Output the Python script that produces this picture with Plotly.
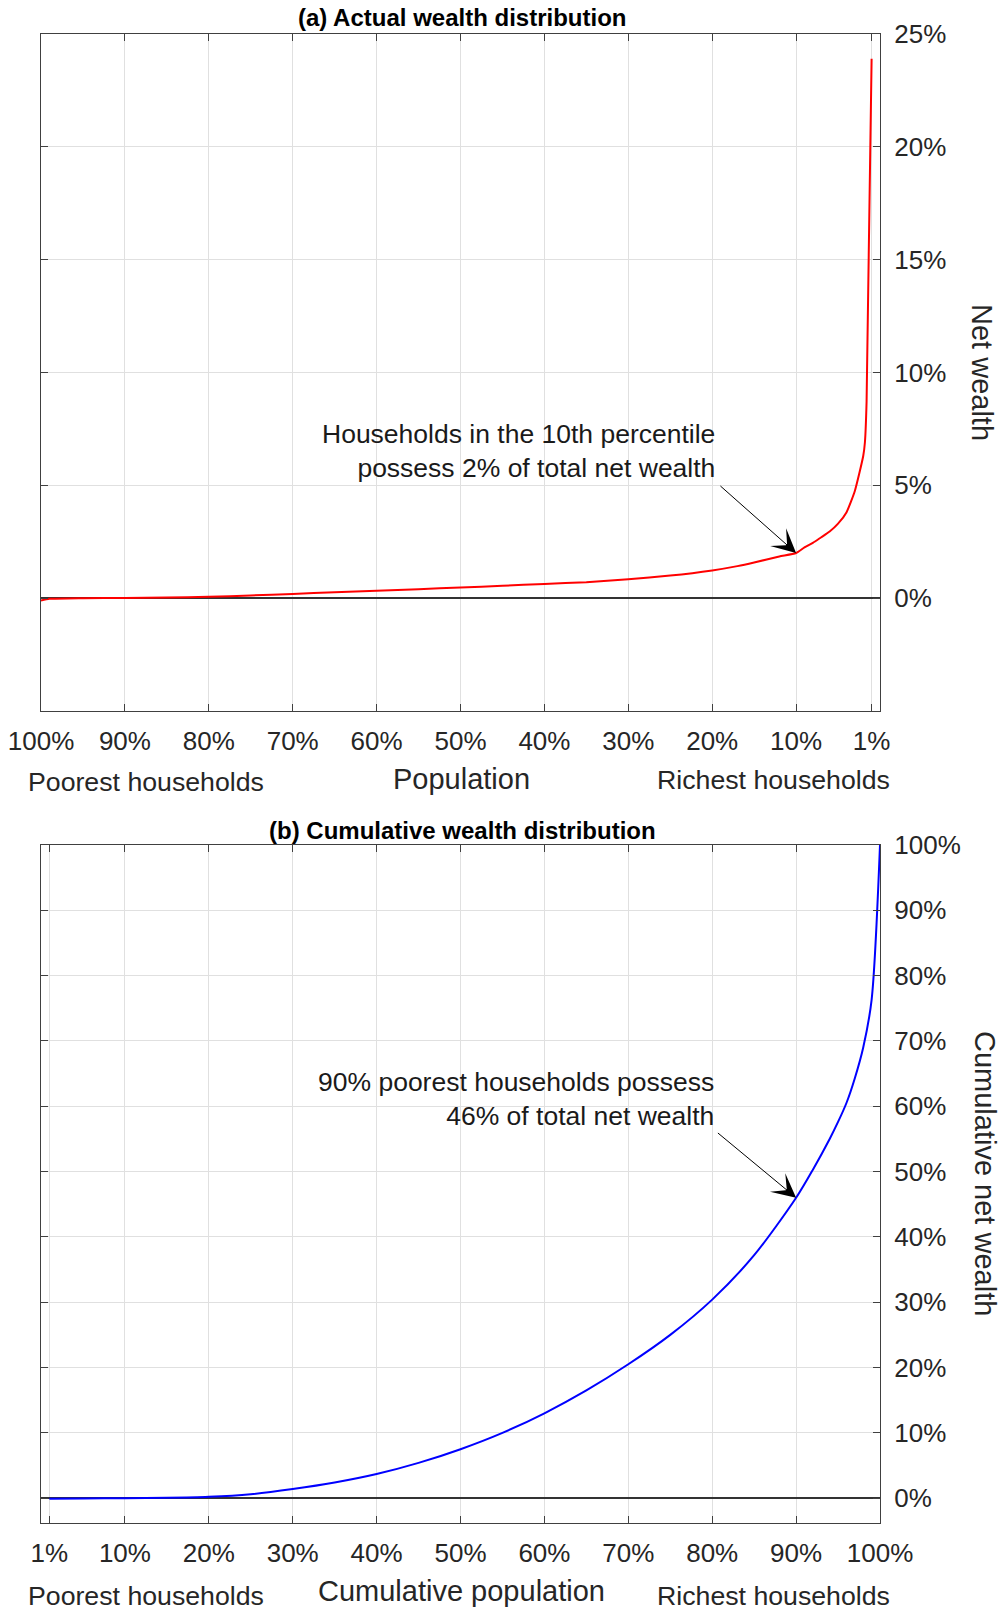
import plotly.graph_objects as go

# ---- Data -------------------------------------------------------------
# (a) share of total net wealth held by each percentile (100% = poorest, 1% = richest)
pct_rank = [100, 99, 95, 90, 85, 80, 75, 70, 65, 60, 55, 50, 45, 40, 35, 30,
            25, 20, 17, 15, 12, 10, 9, 8, 7, 6, 5, 4, 3, 2, 1.8, 1.6, 1]
wealth_share = [-0.10, -0.03, 0.00, 0.01, 0.03, 0.06, 0.12, 0.19, 0.26, 0.33,
                0.40, 0.47, 0.55, 0.63, 0.71, 0.84, 1.00, 1.23, 1.42, 1.58,
                1.85, 2.00, 2.25, 2.45, 2.70, 2.95, 3.30, 3.80, 4.75, 6.30,
                6.90, 8.70, 23.90]

# (b) cumulative share of net wealth against cumulative population
cum_pop = [1, 5, 10, 15, 20, 25, 30, 35, 40, 45, 50, 55, 60, 65, 70, 75, 80,
           85, 90, 92, 94, 95, 96, 97, 98, 99, 100]
cum_wealth = [-0.10, -0.05, 0.00, 0.05, 0.20, 0.60, 1.40, 2.40, 3.70, 5.40,
              7.50, 10.00, 13.00, 16.50, 20.50, 25.00, 30.40, 37.20, 46.00,
              50.30, 55.00, 57.60, 60.50, 64.30, 69.00, 76.30, 100.00]

top_xticks = [100, 90, 80, 70, 60, 50, 40, 30, 20, 10, 1]
top_yticks = [0, 5, 10, 15, 20, 25]
bot_xticks = [1, 10, 20, 30, 40, 50, 60, 70, 80, 90, 100]
bot_yticks = [0, 10, 20, 30, 40, 50, 60, 70, 80, 90, 100]

# ---- Styling ----------------------------------------------------------
W, H = 1003, 1611
FONT = "Liberation Sans, Arial, Helvetica, sans-serif"
INK = "#262626"
GRID = "#e0e0e0"
AXLINE = "#404040"


def px(x):
    return x / W


def py(y):
    return 1 - y / H


def pct_labels(vals):
    return [f"{v}%" for v in vals]


axis_common = dict(
    showline=True, linecolor=AXLINE, linewidth=1.2, mirror="ticks",
    ticks="inside", ticklen=7, tickwidth=1, tickcolor=AXLINE,
    showgrid=True, gridcolor=GRID, gridwidth=1,
    tickfont=dict(family=FONT, size=26, color=INK),
    automargin=False, fixedrange=True,
)

fig = go.Figure()

fig.add_trace(go.Scatter(
    x=pct_rank, y=wealth_share, mode="lines",
    line=dict(color="#ff0000", width=2, shape="spline", smoothing=0.5),
    xaxis="x", yaxis="y", showlegend=False, hoverinfo="skip",
))
fig.add_trace(go.Scatter(
    x=cum_pop, y=cum_wealth, mode="lines",
    line=dict(color="#0000ff", width=2, shape="spline", smoothing=0.8),
    xaxis="x2", yaxis="y2", showlegend=False, hoverinfo="skip",
))

fig.update_layout(
    width=W, height=H,
    margin=dict(l=0, r=0, t=0, b=0, autoexpand=False),
    paper_bgcolor="white", plot_bgcolor="white",
    xaxis=dict(
        **axis_common, domain=[px(41), px(880)], anchor="y",
        range=[100, 0], tickvals=top_xticks, ticktext=pct_labels(top_xticks),
        zeroline=False, ticklabelstandoff=7,
    ),
    yaxis=dict(
        **axis_common, domain=[py(711), py(34)], anchor="x", side="right",
        range=[-5, 25], tickvals=top_yticks, ticktext=pct_labels(top_yticks),
        zeroline=True, zerolinecolor="#333333", zerolinewidth=1.5,
        ticklabelstandoff=8,
    ),
    xaxis2=dict(
        **axis_common, domain=[px(41), px(880)], anchor="y2",
        range=[0, 100], tickvals=bot_xticks, ticktext=pct_labels(bot_xticks),
        zeroline=False, ticklabelstandoff=7,
    ),
    yaxis2=dict(
        **axis_common, domain=[py(1523), py(845)], anchor="x2", side="right",
        range=[-3.8, 100], tickvals=bot_yticks, ticktext=pct_labels(bot_yticks),
        zeroline=True, zerolinecolor="#333333", zerolinewidth=1.5,
        ticklabelstandoff=8,
    ),
)


def text_note(x, y, text, size, xanchor="center", angle=0, color=INK):
    return dict(
        x=px(x), y=py(y), xref="paper", yref="paper", text=text,
        showarrow=False, xanchor=xanchor, yanchor="middle", textangle=angle,
        font=dict(family=FONT, size=size, color=color),
    )


notes = [
    # panel titles
    text_note(462, 18, "<b>(a) Actual wealth distribution</b>", 24, color="#000000"),
    text_note(462, 831, "<b>(b) Cumulative wealth distribution</b>", 24, color="#000000"),
    # x-axis captions, panel (a)
    text_note(26, 782, "Poorest households", 26.7, xanchor="left"),
    text_note(461, 779, "Population", 29),
    text_note(892, 780, "Richest households", 26.7, xanchor="right"),
    # x-axis captions, panel (b)
    text_note(26, 1596, "Poorest households", 26.7, xanchor="left"),
    text_note(461, 1591, "Cumulative population", 29),
    text_note(892, 1596, "Richest households", 26.7, xanchor="right"),
    # right-hand axis titles
    text_note(982, 372, "Net wealth", 29, angle=90),
    text_note(985, 1173, "Cumulative net wealth", 29, angle=90),
]

# callout texts
notes.append(dict(
    x=px(717), y=py(451), xref="paper", yref="paper",
    text="Households in the 10th percentile<br>possess 2% of total net wealth",
    showarrow=False, xanchor="right", yanchor="middle", align="right",
    font=dict(family=FONT, size=26.5, color="#1a1a1a"),
))
notes.append(dict(
    x=px(716), y=py(1099), xref="paper", yref="paper",
    text="90% poorest households possess<br>46% of total net wealth",
    showarrow=False, xanchor="right", yanchor="middle", align="right",
    font=dict(family=FONT, size=26.5, color="#1a1a1a"),
))

# callout arrows pointing at the curves
notes.append(dict(
    x=10, y=2.0, xref="x", yref="y", axref="x", ayref="y", ax=19.2, ay=5.03,
    text="", showarrow=True, arrowhead=3, arrowsize=4, arrowwidth=1,
    arrowcolor="#000000", standoff=0,
))
notes.append(dict(
    x=90, y=46.0, xref="x2", yref="y2", axref="x2", ayref="y2", ax=80.5, ay=56.1,
    text="", showarrow=True, arrowhead=3, arrowsize=4, arrowwidth=1,
    arrowcolor="#000000", standoff=0,
))

fig.update_layout(annotations=notes)

fig.write_html("out.html")
